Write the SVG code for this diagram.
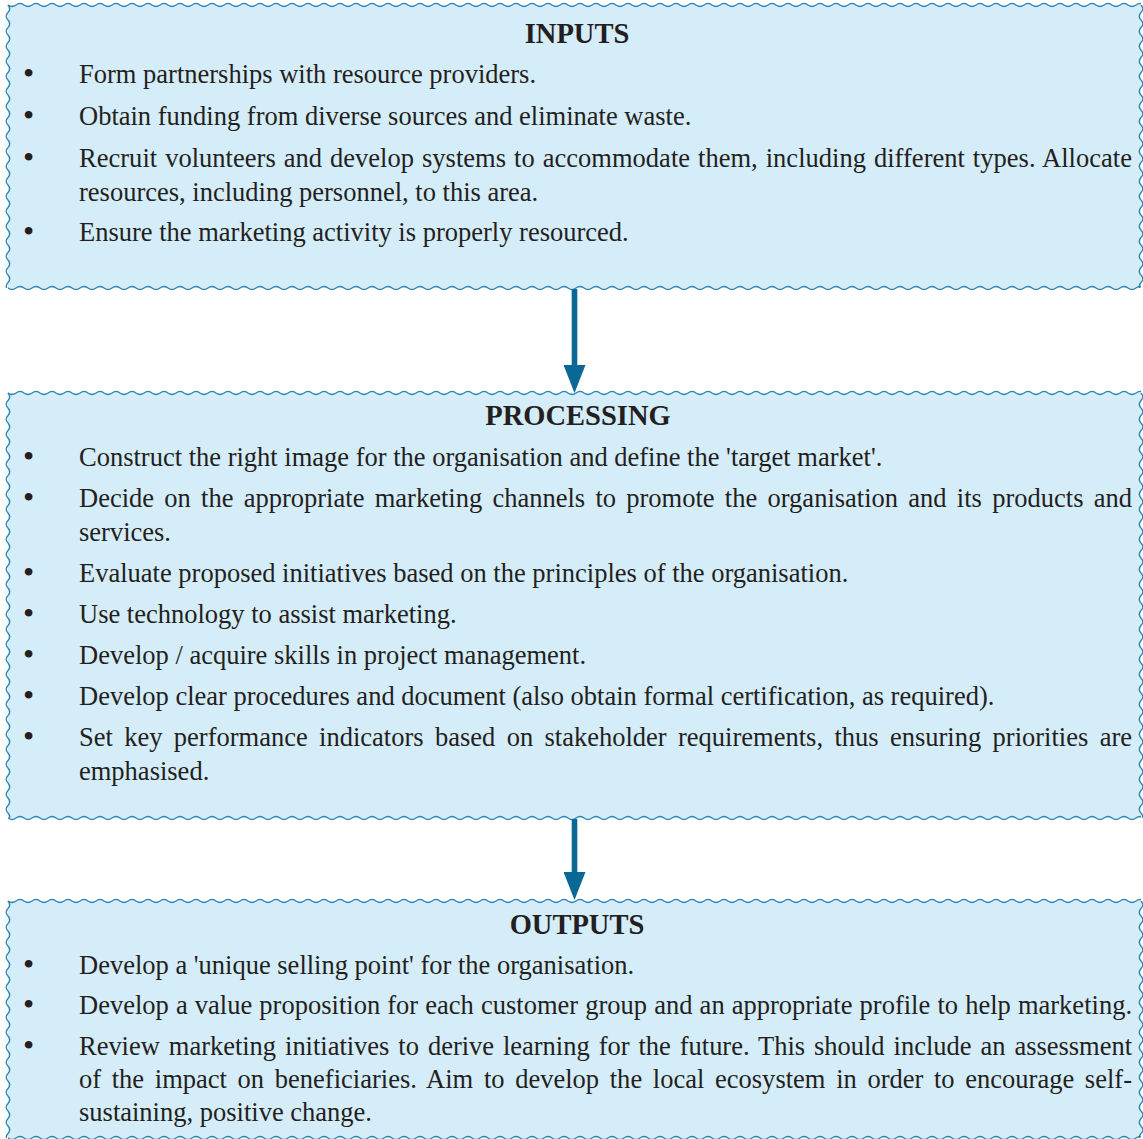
<svg xmlns="http://www.w3.org/2000/svg" width="1143" height="1139" viewBox="0 0 1143 1139">
  <style>
    .panel { fill: #d5ecf9; }
    .title { font-family: "Liberation Serif", "Times New Roman", serif; font-weight: bold; font-size: 28.5px; fill: #231f20; text-anchor: middle; }
    .item { font-family: "Liberation Serif", "Times New Roman", serif; font-size: 26.5px; fill: #231f20; }
    .bullet { font-family: "Liberation Serif", "Times New Roman", serif; font-size: 32px; fill: #231f20; text-anchor: middle; }
    .flow { stroke: #0a6895; stroke-width: 5.6; fill: none; }
  </style>
  <defs>
    <!-- wavy edge tiles: horizontal (period 16) and vertical (period 15) -->
    <pattern id="wave-h" width="16" height="8" patternUnits="userSpaceOnUse">
      <path d="M-8,4 Q-4,1 0,4 T8,4 T16,4 T24,4" fill="none" stroke="#2a86b3" stroke-width="1.3"/>
    </pattern>
    <pattern id="wave-v" width="8" height="15" patternUnits="userSpaceOnUse">
      <path d="M4,-7.5 Q0.5,-3.75 4,0 T4,7.5 T4,15 T4,22.5" fill="none" stroke="#2a86b3" stroke-width="1.3"/>
    </pattern>
    <marker id="head" viewBox="0 0 28 22" refX="5" refY="11" markerWidth="28" markerHeight="22" markerUnits="userSpaceOnUse" orient="auto">
      <path d="M0,0 L28,11 L0,22 Z" fill="#0a6895"/>
    </marker>
  </defs>

  <!-- INPUTS -->
  <g id="inputs">
    <rect class="panel" x="8" y="5" width="1133" height="283"/>
    <rect transform="translate(8,1)" width="1133" height="8" fill="url(#wave-h)"/>
    <rect transform="translate(8,284)" width="1133" height="8" fill="url(#wave-h)"/>
    <rect transform="translate(4,5)" width="8" height="283" fill="url(#wave-v)"/>
    <rect transform="translate(1137,5)" width="8" height="283" fill="url(#wave-v)"/>
    <text class="title" x="577" y="43">INPUTS</text>
    <text class="bullet" x="28.5" y="84">•</text>
    <text class="item" x="79" y="83">Form partnerships with resource providers.</text>
    <text class="bullet" x="28.5" y="126">•</text>
    <text class="item" x="79" y="125">Obtain funding from diverse sources and eliminate waste.</text>
    <text class="bullet" x="28.5" y="168">•</text>
    <text class="item" x="79" y="167" word-spacing="1.3" textLength="1053" lengthAdjust="spacing">Recruit volunteers and develop systems to accommodate them, including different types. Allocate</text>
    <text class="item" x="79" y="201">resources, including personnel, to this area.</text>
    <text class="bullet" x="28.5" y="242">•</text>
    <text class="item" x="79" y="241">Ensure the marketing activity is properly resourced.</text>
  </g>

  <!-- PROCESSING -->
  <g id="processing">
    <rect class="panel" x="8" y="393" width="1133" height="425"/>
    <rect transform="translate(8,389)" width="1133" height="8" fill="url(#wave-h)"/>
    <rect transform="translate(8,814)" width="1133" height="8" fill="url(#wave-h)"/>
    <rect transform="translate(4,393)" width="8" height="425" fill="url(#wave-v)"/>
    <rect transform="translate(1137,393)" width="8" height="425" fill="url(#wave-v)"/>
    <text class="title" x="578" y="425">PROCESSING</text>
    <text class="bullet" x="28.5" y="467">•</text>
    <text class="item" x="79" y="466">Construct the right image for the organisation and define the 'target market'.</text>
    <text class="bullet" x="28.5" y="508">•</text>
    <text class="item" x="79" y="507" word-spacing="3.6" textLength="1053" lengthAdjust="spacing">Decide on the appropriate marketing channels to promote the organisation and its products and</text>
    <text class="item" x="79" y="541">services.</text>
    <text class="bullet" x="28.5" y="583">•</text>
    <text class="item" x="79" y="582">Evaluate proposed initiatives based on the principles of the organisation.</text>
    <text class="bullet" x="28.5" y="624">•</text>
    <text class="item" x="79" y="623">Use technology to assist marketing.</text>
    <text class="bullet" x="28.5" y="665">•</text>
    <text class="item" x="79" y="664">Develop / acquire skills in project management.</text>
    <text class="bullet" x="28.5" y="706">•</text>
    <text class="item" x="79" y="705">Develop clear procedures and document (also obtain formal certification, as required).</text>
    <text class="bullet" x="28.5" y="747">•</text>
    <text class="item" x="79" y="746" word-spacing="4.7" textLength="1053" lengthAdjust="spacing">Set key performance indicators based on stakeholder requirements, thus ensuring priorities are</text>
    <text class="item" x="79" y="780">emphasised.</text>
  </g>

  <!-- OUTPUTS -->
  <g id="outputs">
    <rect class="panel" x="8" y="901" width="1133" height="237"/>
    <rect transform="translate(8,897)" width="1133" height="8" fill="url(#wave-h)"/>
    <rect transform="translate(8,1134)" width="1133" height="8" fill="url(#wave-h)"/>
    <rect transform="translate(4,901)" width="8" height="237" fill="url(#wave-v)"/>
    <rect transform="translate(1137,901)" width="8" height="237" fill="url(#wave-v)"/>
    <text class="title" x="577" y="934">OUTPUTS</text>
    <text class="bullet" x="28.5" y="975">•</text>
    <text class="item" x="79" y="974">Develop a 'unique selling point' for the organisation.</text>
    <text class="bullet" x="28.5" y="1015">•</text>
    <text class="item" x="79" y="1014" word-spacing="0.5" textLength="1053" lengthAdjust="spacing">Develop a value proposition for each customer group and an appropriate profile to help marketing.</text>
    <text class="bullet" x="28.5" y="1056">•</text>
    <text class="item" x="79" y="1055" word-spacing="2.4" textLength="1053" lengthAdjust="spacing">Review marketing initiatives to derive learning for the future. This should include an assessment</text>
    <text class="item" x="79" y="1088" word-spacing="4" textLength="1053" lengthAdjust="spacing">of the impact on beneficiaries. Aim to develop the local ecosystem in order to encourage self-</text>
    <text class="item" x="79" y="1121">sustaining, positive change.</text>
  </g>

  <!-- connectors -->
  <g id="connectors">
    <line class="flow" x1="574.5" y1="289" x2="574.5" y2="370" marker-end="url(#head)"/>
    <line class="flow" x1="574.5" y1="819" x2="574.5" y2="877" marker-end="url(#head)"/>
  </g>
</svg>
